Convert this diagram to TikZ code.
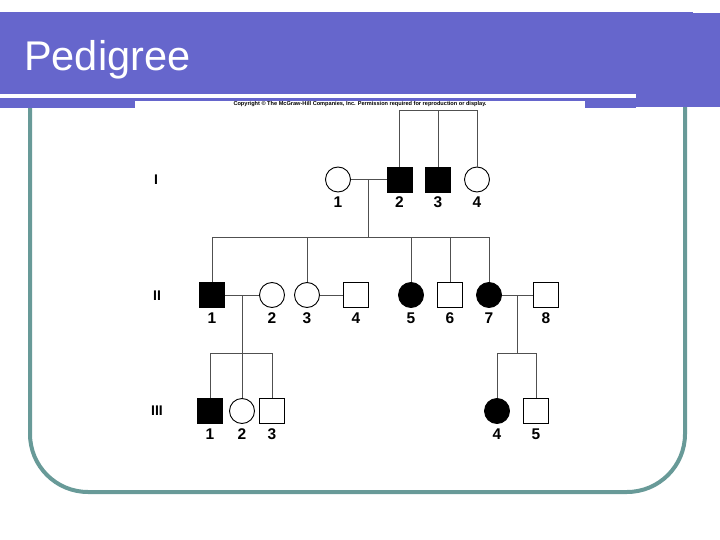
\documentclass[tikz,border=0pt]{standalone}
\usepackage{fontspec}
\setmainfont{Liberation Sans}
\definecolor{hdrblue}{RGB}{102,102,204}
\definecolor{frameteal}{RGB}{104,154,152}
\definecolor{linegray}{RGB}{80,80,80}
\begin{document}
\begin{tikzpicture}[x=1pt,y=-1pt,
  male/.style={draw=black,line width=0.9pt,rectangle,minimum size=25pt,inner sep=0pt,fill=white},
  female/.style={draw=black,line width=0.9pt,circle,minimum size=25pt,inner sep=0pt,fill=white},
  aff/.style={fill=black},
  num/.style={font=\bfseries\fontsize{15.5}{15.5}\selectfont,inner sep=0pt},
  gen/.style={font=\bfseries\fontsize{14}{14}\selectfont,inner sep=0pt},
  link/.style={draw=linegray,line width=0.8pt}]
\useasboundingbox (0,0) rectangle (720,540);
% frame
\draw[frameteal,line width=4pt] (30,106) -- (30,434) arc[start angle=180,end angle=90,radius=58] -- (627,492)
  arc[start angle=90,end angle=0,radius=58] -- (685,106);
% header
\fill[hdrblue] (0,12) rectangle (693,94);
\fill[hdrblue] (693,13) rectangle (720,107);
\fill[hdrblue] (636,94) rectangle (693,107);
\fill[hdrblue] (0,98) rectangle (636,101);
\fill[hdrblue] (0,98) rectangle (135,108);
\fill[hdrblue] (585,98) rectangle (636,108);
\node[anchor=base west,inner sep=0pt,text=white,font=\fontsize{41.5}{41.5}\selectfont] (title) at (24,71) {Pedigree};
\node[inner sep=0pt] (copy) at (360,104) {\resizebox{253pt}{!}{\bfseries\fontsize{6}{6}\selectfont Copyright \textcopyright{} The McGraw-Hill Companies, Inc. Permission required for reproduction or display.}};
% generation labels
\node[gen] (gI) at (156,180) {I};
\node[gen] (gII) at (157,296) {II};
\node[gen] (gIII) at (157,411) {III};
% generation I
\node[female] (i1) at (338,179.5) {};
\node[male,aff] (i2) at (399.5,179.5) {};
\node[male,aff] (i3) at (438,179.5) {};
\node[female] (i4) at (477,179.5) {};
% generation II
\node[male,aff] (ii1) at (212,295) {};
\node[female] (ii2) at (272,295) {};
\node[female] (ii3) at (307,295) {};
\node[male] (ii4) at (356,295) {};
\node[female,aff] (ii5) at (411,295) {};
\node[male] (ii6) at (450,295) {};
\node[female,aff] (ii7) at (489,295) {};
\node[male] (ii8) at (546,295) {};
% generation III
\node[male,aff] (iii1) at (210,411) {};
\node[female] (iii2) at (242,411) {};
\node[male] (iii3) at (272,411) {};
\node[female,aff] (iii4) at (497,411) {};
\node[male] (iii5) at (536,411) {};
% numbers
\coordinate (rowI) at (0,202.5);
\coordinate (rowII) at (0,318.5);
\coordinate (rowIII) at (0,434.5);
\foreach \n/\t/\r in {i1/1/rowI,i2/2/rowI,i3/3/rowI,i4/4/rowI,
  ii1/1/rowII,ii2/2/rowII,ii3/3/rowII,ii4/4/rowII,ii5/5/rowII,ii6/6/rowII,ii7/7/rowII,ii8/8/rowII,
  iii1/1/rowIII,iii2/2/rowIII,iii3/3/rowIII,iii4/4/rowIII,iii5/5/rowIII}
  \node[num] (n\n) at (\n |- \r) {\t};
% coordinates
\coordinate (top) at (0,110);
\coordinate (m1) at (368,179.5);
\coordinate (s1) at (368,237);
\coordinate (m2) at (242,295);
\coordinate (s2) at (242,353);
\coordinate (m3) at (517,295);
\coordinate (s3) at (517,353);
% connectors generation I
\draw[link] (i2) -- (i2 |- top) -- (i4 |- top) -- (i4);
\draw[link] (i3) -- (i3 |- top);
\draw[link] (i1) -- (i2);
\draw[link] (m1) -- (s1);
\draw[link] (ii1 |- s1) -- (ii7 |- s1);
\foreach \c in {ii1,ii3,ii5,ii6,ii7} \draw[link] (\c |- s1) -- (\c);
% generation II matings
\draw[link] (ii1) -- (ii2);
\draw[link] (ii3) -- (ii4);
\draw[link] (ii7) -- (ii8);
\draw[link] (m2) -- (iii2);
\draw[link] (iii1) -- (iii1 |- s2) -- (iii3 |- s2) -- (iii3);
\draw[link] (m3) -- (s3);
\draw[link] (iii4) -- (iii4 |- s3) -- (iii5 |- s3) -- (iii5);
\end{tikzpicture}
\end{document}
